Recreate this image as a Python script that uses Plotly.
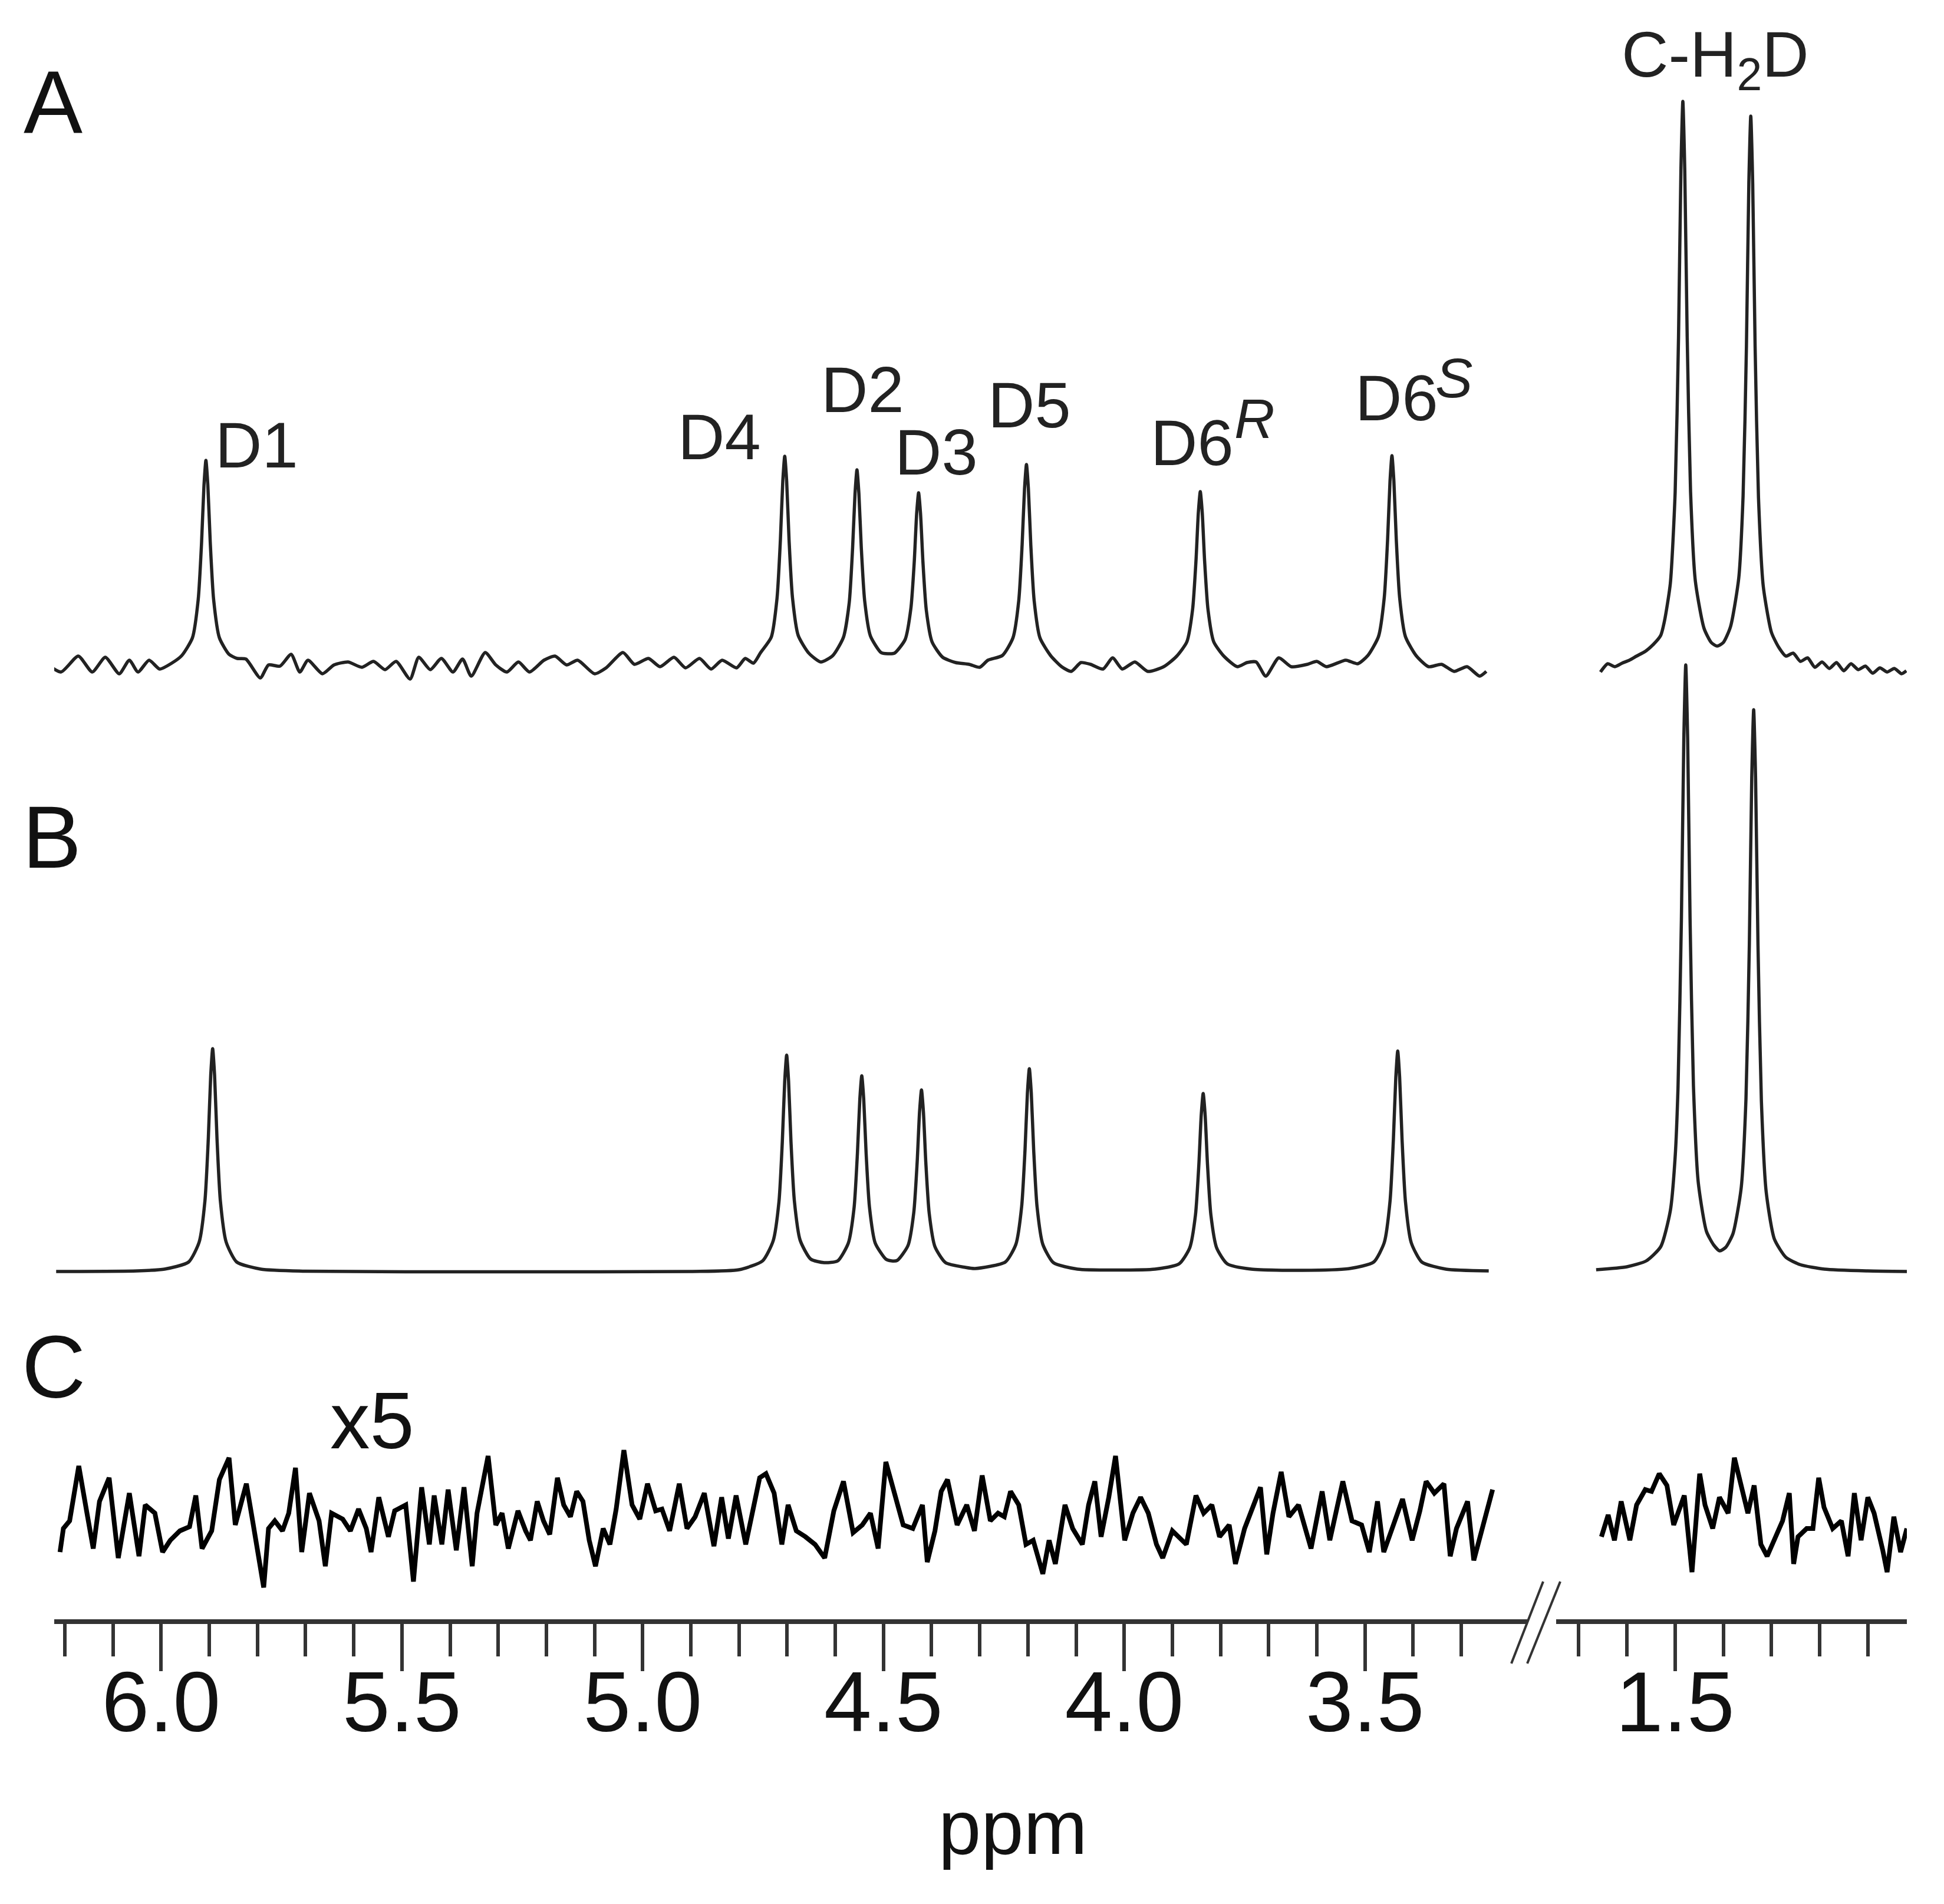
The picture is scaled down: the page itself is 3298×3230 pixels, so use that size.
import plotly.graph_objects as go

W, H = 3298, 3230
OFF = 8  # page body margin of the html file
FW, FH = W - OFF, H - OFF

# ---- data: (ppm, intensity); 1 intensity unit ~ 10 px of the original ----
# A: experimental spectrum
A_LEFT = [
    (6.244, 0.6), (6.208, -1.2), (6.172, 1.5), (6.143, -1.2), (6.116, 1.3), (6.087, -1.5), (6.066, 0.8),
    (6.048, -1.2), (6.025, 0.8), (6.003, -0.7), (5.978, 0.3),
    (5.957, 1.6), (5.935, 4.6), (5.923, 11.1), (5.916, 20.8), (5.911, 30.5), (5.907, 34.7), (5.903, 30.5),
    (5.898, 20.8), (5.891, 11.1), (5.879, 4.6), (5.859, 1.8),
    (5.842, 1.1), (5.824, 1.0), (5.794, -2.2), (5.777, 0.0), (5.753, -0.2), (5.730, 1.8), (5.712, -1.2),
    (5.695, 0.8), (5.665, -1.5), (5.641, 0.0), (5.612, 0.5), (5.583, -0.4), (5.559, 0.6), (5.535, -0.8),
    (5.512, 0.6), (5.483, -2.4), (5.465, 1.3), (5.441, -0.8), (5.418, 1.1), (5.394, -1.2), (5.374, 1.0),
    (5.356, -1.9), (5.327, 2.1), (5.305, 0.0), (5.282, -1.2), (5.258, 0.5), (5.235, -1.2), (5.205, 0.8),
    (5.182, 1.5), (5.158, 0.0), (5.135, 0.8), (5.100, -1.5), (5.076, -0.5), (5.041, 2.1), (5.017, 0.1),
    (4.988, 1.1), (4.964, -0.3), (4.935, 1.3), (4.911, -0.5), (4.882, 1.1), (4.858, -0.7), (4.835, 0.8),
    (4.805, -0.5), (4.787, 1.1), (4.770, 0.3),
    (4.755, 2.1), (4.733, 4.7), (4.721, 11.3), (4.714, 21.2), (4.709, 31.2), (4.705, 35.4), (4.701, 31.2),
    (4.696, 21.2), (4.689, 11.5), (4.677, 5.0), (4.655, 2.0), (4.630, 0.5),
    (4.605, 1.6), (4.583, 4.7), (4.571, 10.6), (4.564, 19.9), (4.559, 29.1), (4.555, 33.1), (4.551, 29.1),
    (4.546, 19.9), (4.539, 10.9), (4.527, 4.9), (4.505, 2.1), (4.491, 1.9), (4.477, 2.0),
    (4.455, 4.3), (4.443, 9.6), (4.436, 17.5), (4.431, 25.7), (4.427, 29.2), (4.423, 25.7), (4.418, 17.5),
    (4.411, 9.3), (4.399, 3.9), (4.377, 1.3),
    (4.350, 0.4), (4.322, 0.1), (4.300, -0.4), (4.283, 0.8),
    (4.253, 1.6), (4.231, 4.6), (4.219, 10.9), (4.212, 20.4), (4.207, 29.9), (4.203, 34.0), (4.199, 29.9),
    (4.194, 20.4), (4.187, 10.9), (4.175, 4.6), (4.153, 1.6),
    (4.130, -0.3), (4.110, -1.1), (4.090, 0.4), (4.070, 0.1), (4.044, -0.7), (4.024, 1.2), (4.004, -0.7),
    (3.978, 0.5), (3.951, -1.1), (3.918, -0.3),
    (3.892, 1.4), (3.870, 3.9), (3.858, 9.4), (3.851, 17.6), (3.846, 25.9), (3.842, 29.4), (3.838, 25.9),
    (3.833, 17.6), (3.826, 9.4), (3.814, 3.9), (3.792, 1.4),
    (3.765, -0.3), (3.745, 0.4), (3.726, 0.5), (3.706, -1.9), (3.679, 1.2), (3.653, -0.3), (3.620, 0.1),
    (3.600, 0.6), (3.580, -0.3), (3.540, 0.8), (3.515, 0.2),
    (3.494, 1.6), (3.472, 4.8), (3.460, 11.4), (3.453, 21.3), (3.448, 31.2), (3.444, 35.5), (3.440, 31.2),
    (3.435, 21.3), (3.428, 11.4), (3.416, 4.8), (3.394, 1.6),
    (3.368, -0.3), (3.341, 0.1), (3.315, -1.1), (3.288, -0.3), (3.262, -1.9), (3.248, -1.1),
]
A_RIGHT = [
    (1.655, -1.2), (1.640, 0.2), (1.625, -0.3), (1.610, 0.3), (1.595, 0.8), (1.580, 1.5), (1.562, 2.3),
    (1.545, 3.5), (1.530, 5.0), (1.522, 7.5), (1.510, 13.8), (1.500, 29.2), (1.493, 55.5), (1.488, 83.9),
    (1.484, 95.6), (1.480, 83.9), (1.475, 55.7), (1.468, 29.4), (1.458, 14.2), (1.440, 6.2), (1.425, 3.8),
    (1.413, 3.2), (1.400, 3.8), (1.385, 6.5), (1.368, 14.7), (1.359, 28.6), (1.352, 54.1), (1.347, 81.8),
    (1.343, 93.1), (1.339, 81.7), (1.334, 54.0), (1.327, 28.4), (1.317, 13.3), (1.300, 5.5), (1.285, 3.0),
    (1.270, 1.5), (1.255, 2.0), (1.240, 0.6), (1.225, 1.2), (1.210, -0.4), (1.195, 0.5), (1.180, -0.6),
    (1.165, 0.4), (1.150, -1.0), (1.135, 0.2), (1.120, -0.8), (1.105, -0.2), (1.090, -1.4), (1.075, -0.5),
    (1.060, -1.2), (1.045, -0.6), (1.030, -1.5), (1.020, -1.0),
]

# B: simulated spectrum
B_LEFT = [
    (6.218, 0.1), (6.050, 0.2), (5.993, 0.5), (5.943, 1.7), (5.921, 5.1), (5.909, 12.1), (5.902, 22.7),
    (5.897, 33.4), (5.893, 37.9), (5.889, 33.4), (5.884, 22.7), (5.877, 12.1), (5.865, 5.1), (5.843, 1.7),
    (5.793, 0.5), (5.700, 0.15), (5.300, 0.05), (4.900, 0.1), (4.800, 0.4),
    (4.751, 1.9), (4.729, 5.3), (4.717, 11.9), (4.710, 22.1), (4.705, 32.4), (4.701, 36.8), (4.697, 32.4),
    (4.692, 22.1), (4.685, 12.1), (4.673, 5.4), (4.651, 2.2), (4.623, 1.6),
    (4.595, 1.9), (4.573, 4.9), (4.561, 10.9), (4.554, 20.2), (4.549, 29.4), (4.545, 33.3), (4.541, 29.4),
    (4.536, 20.2), (4.529, 11.0), (4.517, 4.9), (4.495, 2.2), (4.483, 1.9),
    (4.471, 2.0), (4.449, 4.5), (4.437, 10.1), (4.430, 18.6), (4.425, 27.2), (4.421, 30.9), (4.417, 27.2),
    (4.412, 18.6), (4.405, 10.0), (4.393, 4.3), (4.371, 1.6), (4.330, 0.8), (4.310, 0.6),
    (4.247, 1.7), (4.225, 4.7), (4.213, 11.1), (4.206, 20.7), (4.201, 30.4), (4.197, 34.5), (4.193, 30.4),
    (4.188, 20.7), (4.181, 11.1), (4.169, 4.7), (4.147, 1.6), (4.097, 0.5), (4.020, 0.35), (3.936, 0.5),
    (3.886, 1.4), (3.864, 4.1), (3.852, 9.7), (3.845, 18.2), (3.840, 26.7), (3.836, 30.3), (3.832, 26.7),
    (3.827, 18.2), (3.820, 9.7), (3.808, 4.1), (3.786, 1.4), (3.736, 0.5), (3.630, 0.3), (3.532, 0.6),
    (3.482, 1.7), (3.460, 5.0), (3.448, 12.0), (3.441, 22.5), (3.436, 33.0), (3.432, 37.5), (3.428, 33.0),
    (3.423, 22.5), (3.416, 12.0), (3.404, 5.0), (3.382, 1.7), (3.332, 0.5), (3.243, 0.2),
]
B_RIGHT = [
    (1.664, 0.4), (1.600, 0.9), (1.560, 1.9), (1.530, 4.3), (1.510, 10.4), (1.500, 19.5), (1.494, 31.4),
    (1.487, 59.8), (1.482, 90.4), (1.478, 103.0), (1.474, 90.4), (1.469, 59.8), (1.462, 31.6), (1.452, 15.2),
    (1.435, 6.9), (1.420, 4.6), (1.4075, 3.6), (1.395, 4.2), (1.380, 6.5), (1.363, 14.2), (1.353, 29.3),
    (1.346, 55.5), (1.341, 83.8), (1.337, 95.4), (1.333, 83.7), (1.328, 55.4), (1.321, 29.1), (1.311, 13.6),
    (1.294, 5.6), (1.270, 2.5), (1.240, 1.25), (1.190, 0.5), (1.100, 0.2), (1.013, 0.1),
]

# C: difference (x5)
C_LEFT = [
    (6.210, -5.3), (6.203, -1.3), (6.190, 0.0), (6.171, 9.3), (6.154, 1.3), (6.141, -4.7), (6.128, 3.3),
    (6.108, 7.3), (6.089, -6.3), (6.066, 4.7), (6.046, -6.0), (6.033, 2.7), (6.013, 1.3), (5.997, -5.3),
    (5.981, -3.3), (5.961, -1.7), (5.941, -1.0), (5.928, 4.3), (5.915, -4.7), (5.895, -1.7), (5.879, 7.0),
    (5.859, 10.7), (5.846, -0.7), (5.823, 6.3), (5.810, 0.0), (5.800, -5.3), (5.787, -11.3), (5.777, -1.3),
    (5.764, 0.0), (5.748, -1.7), (5.735, 1.3), (5.721, 9.0), (5.708, -5.3), (5.692, 4.7), (5.672, 0.0),
    (5.659, -7.7), (5.646, 1.3), (5.623, 0.3), (5.607, -1.7), (5.590, 2.0), (5.574, -1.3), (5.564, -5.3),
    (5.548, 4.0), (5.528, -2.7), (5.515, 1.7), (5.492, 2.7), (5.476, -10.3), (5.459, 5.7), (5.443, -4.0),
    (5.433, 4.3), (5.417, -4.0), (5.404, 5.3), (5.387, -5.0), (5.371, 5.7), (5.354, -7.7), (5.344, 1.3),
    (5.321, 11.0), (5.305, -0.7), (5.292, 1.3), (5.279, -4.7), (5.259, 1.7), (5.243, -1.7), (5.233, -3.3),
    (5.219, 3.3), (5.206, 0.0), (5.193, -2.3), (5.177, 7.3), (5.164, 2.7), (5.150, 0.7), (5.137, 5.0),
    (5.124, 3.3), (5.111, -3.3), (5.098, -7.7), (5.082, -1.3), (5.068, -4.0), (5.055, 2.0), (5.039, 12.0),
    (5.022, 2.7), (5.006, 0.3), (4.990, 6.3), (4.973, 1.7), (4.960, 2.0), (4.944, -1.7), (4.924, 6.3),
    (4.908, -1.3), (4.891, 0.7), (4.872, 4.7), (4.852, -4.3), (4.836, 4.0), (4.822, -3.0), (4.806, 4.3),
    (4.786, -4.0), (4.770, 2.7), (4.757, 7.3), (4.744, 8.0), (4.727, 4.7), (4.711, -4.0), (4.698, 2.7),
    (4.681, -1.7), (4.662, -2.7), (4.642, -4.0), (4.622, -6.3), (4.603, 1.7), (4.583, 6.7), (4.563, -2.0),
    (4.544, -0.7), (4.527, 1.3), (4.511, -4.7), (4.495, 10.0), (4.475, 4.3), (4.459, -0.7), (4.439, -1.3),
    (4.419, 2.7), (4.409, -7.0), (4.393, -1.7), (4.380, 5.0), (4.367, 7.0), (4.347, -0.7), (4.327, 2.7),
    (4.311, -1.7), (4.295, 7.7), (4.278, 0.0), (4.262, 1.3), (4.249, 0.7), (4.236, 5.0), (4.219, 2.7),
    (4.204, -4.0), (4.189, -3.3), (4.169, -9.0), (4.156, -3.3), (4.143, -7.3), (4.123, 2.7), (4.107, -1.3),
    (4.087, -4.0), (4.074, 2.7), (4.061, 6.7), (4.048, -2.7), (4.032, 4.0), (4.018, 11.0), (3.999, -3.3),
    (3.982, 1.3), (3.966, 4.0), (3.950, 1.3), (3.933, -4.0), (3.920, -6.3), (3.900, -1.7), (3.871, -4.0),
    (3.851, 4.3), (3.835, 1.3), (3.818, 2.7), (3.802, -2.7), (3.782, -0.7), (3.769, -7.3), (3.750, -1.3),
    (3.730, 3.3), (3.717, 5.7), (3.704, -5.7), (3.691, 1.3), (3.674, 8.3), (3.658, 0.7), (3.638, 2.7),
    (3.612, -4.7), (3.589, 5.0), (3.573, -3.3), (3.546, 6.7), (3.527, 0.0), (3.507, -0.7), (3.491, -5.3),
    (3.474, 3.3), (3.461, -5.3), (3.441, -0.7), (3.422, 3.7), (3.402, -3.3), (3.386, 1.7), (3.373, 6.7),
    (3.356, 4.7), (3.336, 6.3), (3.323, -6.0), (3.310, -1.3), (3.287, 3.3), (3.274, -6.7), (3.258, -1.7),
    (3.235, 5.3),
]
C_RIGHT = [
    (1.653, -2.7), (1.639, 1.0), (1.626, -3.3), (1.612, 3.3), (1.594, -3.3), (1.580, 2.7), (1.562, 5.3),
    (1.549, 5.0), (1.533, 8.0), (1.517, 6.0), (1.503, -0.7), (1.481, 4.3), (1.465, -8.7), (1.449, 8.0),
    (1.438, 2.7), (1.422, -1.3), (1.408, 4.0), (1.390, 1.3), (1.377, 10.7), (1.361, 5.3), (1.349, 1.3),
    (1.336, 6.0), (1.322, -4.0), (1.309, -6.0), (1.295, -3.3), (1.277, 0.0), (1.263, 4.7), (1.254, -7.3),
    (1.245, -2.7), (1.227, -1.3), (1.214, -1.3), (1.202, 7.3), (1.191, 2.3), (1.173, -1.3), (1.155, 0.0),
    (1.141, -6.0), (1.128, 4.7), (1.114, -3.3), (1.100, 4.0), (1.087, 1.3), (1.069, -5.0), (1.060, -8.7),
    (1.046, 0.7), (1.032, -5.3), (1.019, -1.3),
]

LEFT_MAJOR = [6.0, 5.5, 5.0, 4.5, 4.0, 3.5]
LEFT_MINOR = [6.2, 6.1, 5.9, 5.8, 5.7, 5.6, 5.4, 5.3, 5.2, 5.1, 4.9, 4.8, 4.7, 4.6,
              4.4, 4.3, 4.2, 4.1, 3.9, 3.8, 3.7, 3.6, 3.4, 3.3]
RIGHT_MAJOR = [1.5]
RIGHT_MINOR = [1.7, 1.6, 1.4, 1.3, 1.2, 1.1]

PEAK_LABELS = ["D1", "D4", "D2", "D3", "D5", "D6", "D6", "C-H<sub>2</sub>D"]
PEAK_SUPERSCRIPTS = ["R", "S"]

FONT = "Liberation Sans, Arial, sans-serif"


def px(x, y):
    # page pixel -> paper fraction
    return (x - OFF) / FW, 1 - (y - OFF) / FH


def yrange(base):
    # zero intensity sits at page row `base`; 1 unit = 10 px
    b = base - OFF
    return [-(FH - b) / 10, b / 10]


fig = go.Figure()
series = [
    (A_LEFT, "x", "y", "#222222", 5.5, "spline"), (A_RIGHT, "x2", "y", "#222222", 5.5, "spline"),
    (B_LEFT, "x", "y2", "#222222", 5.5, "spline"), (B_RIGHT, "x2", "y2", "#222222", 5.5, "spline"),
    (C_LEFT, "x", "y3", "#000000", 8, "linear"), (C_RIGHT, "x2", "y3", "#000000", 8, "linear"),
]
for pts, xa, ya, col, lw, shape in series:
    fig.add_trace(go.Scatter(
        x=[p[0] for p in pts], y=[p[1] for p in pts], xaxis=xa, yaxis=ya, mode="lines",
        line=dict(color=col, width=lw, shape=shape, smoothing=0.6), hoverinfo="skip",
    ))

axis_pos = 1 - (2751 - OFF) / FH
tick_common = dict(
    anchor="free", position=axis_pos, showline=True, linecolor="#333333", linewidth=8,
    ticks="outside", ticklen=80, tickwidth=6, tickcolor="#333333", tickmode="array",
    ticklabelstandoff=-72, showgrid=False, zeroline=False,
    tickfont=dict(family=FONT, size=145, color="#111111"),
)
minor_common = dict(tickmode="array", ticks="outside", ticklen=55, tickwidth=6, tickcolor="#333333")
fig.update_layout(
    width=FW, height=FH, margin=dict(l=0, r=0, t=0, b=0),
    paper_bgcolor="white", plot_bgcolor="rgba(0,0,0,0)", showlegend=False,
    xaxis=dict(domain=[(92 - OFF) / FW, (2591 - OFF) / FW], range=[6.222, 3.163], tickvals=LEFT_MAJOR,
               ticktext=[f"{v:.1f}" for v in LEFT_MAJOR],
               minor=dict(tickvals=LEFT_MINOR, **minor_common), **tick_common),
    xaxis2=dict(domain=[(2640 - OFF) / FW, (3235 - OFF) / FW], range=[1.747, 1.019], tickvals=RIGHT_MAJOR,
                ticktext=[f"{v:.1f}" for v in RIGHT_MAJOR],
                minor=dict(tickvals=RIGHT_MINOR, **minor_common), **tick_common),
    yaxis=dict(domain=[0, 1], range=yrange(1128), visible=False),
    yaxis2=dict(domain=[0, 1], range=yrange(2158), visible=False),
    yaxis3=dict(domain=[0, 1], range=yrange(2580), visible=False),
)

# axis break marks
for x0, x1 in [(2564, 2618), (2591, 2647)]:
    a0, b0 = px(x0, 2822)
    a1, b1 = px(x1, 2683)
    fig.add_shape(type="line", xref="paper", yref="paper", x0=a0, y0=b0, x1=a1, y1=b1,
                  line=dict(color="#333333", width=4))


def note(text, x, y, size, color="#222222", style="normal"):
    ax, ay = px(x, y)
    fig.add_annotation(text=text, x=ax, y=ay, xref="paper", yref="paper", showarrow=False,
                       xanchor="center", yanchor="middle",
                       font=dict(family=FONT, size=size, color=color, style=style))


for lab, (lx, ly) in zip(PEAK_LABELS, [(435, 754), (1220, 740), (1463, 660), (1588, 766), (1746, 687),
                                       (2022, 750), (2369, 674), (2910, 100)]):
    note(lab, lx, ly, 110)
for lab, (lx, ly) in zip(PEAK_SUPERSCRIPTS, [(2128, 710), (2466, 641)]):
    note(lab, lx, ly, 95, style="italic")

for lab, (lx, ly) in zip(["A", "B", "C"], [(90, 173), (88, 1420), (91, 2319)]):
    note(lab, lx, ly, 150, color="#111111")
note("x5", 631, 2410, 135, color="#111111")
note("ppm", 1718, 3100, 130, color="#111111")

fig.write_html("out.html")
